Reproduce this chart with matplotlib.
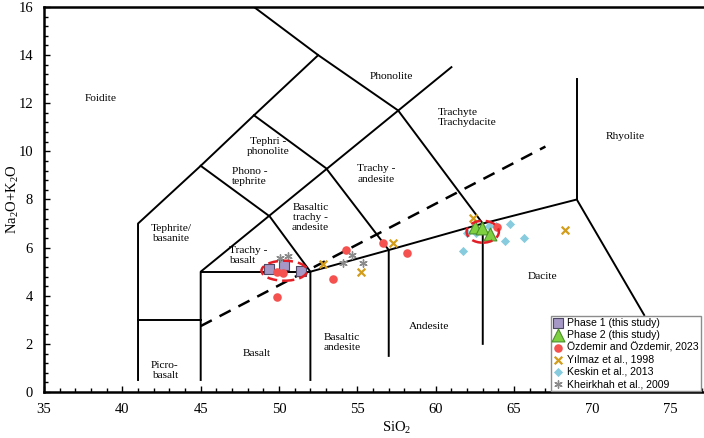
import matplotlib
matplotlib.use('Agg')
import matplotlib.pyplot as plt
from matplotlib.patches import Ellipse
from matplotlib.ticker import MultipleLocator

plt.rcParams['font.family'] = 'Liberation Serif'
plt.rcParams['mathtext.fontset'] = 'custom'
plt.rcParams['mathtext.rm'] = 'Liberation Serif'
plt.rcParams['mathtext.default'] = 'rm'

# TAS field boundaries (SiO2, Na2O+K2O)
boundaries = [
    [(41, 0.5), (41, 7), (45, 9.4), (48.4, 11.5), (52.5, 14), (48.4, 16)],
    [(41, 3), (45, 3)],
    [(45, 0.5), (45, 5), (61, 13.5)],
    [(45, 5), (52, 5)],
    [(52, 0.5), (52, 5), (57, 5.9), (63, 7), (69, 8), (73.3, 3.2)],
    [(45, 9.4), (49.4, 7.3), (52, 5)],
    [(48.4, 11.5), (53, 9.3), (57, 5.9), (57, 1.5)],
    [(52.5, 14), (57.6, 11.7), (63, 7), (63, 2)],
    [(69, 8), (69, 13)],
]
alk_line = [(45, 2.74), (67, 10.2)]

field_labels = [
    ('Foidite', 38.6, 12.2, 'center'),
    ('Phonolite', 57.2, 13.1, 'center'),
    ('Tephri -\nphonolite', 49.3, 10.2, 'center'),
    ('Trachyte\nTrachydacite', 60.1, 11.4, 'left'),
    ('Trachy -\nandesite', 56.2, 9.06, 'center'),
    ('Phono -\ntephrite', 48.1, 8.94, 'center'),
    ('Basaltic\ntrachy -\nandesite', 52.0, 7.27, 'center'),
    ('Tephrite/\nbasanite', 43.1, 6.57, 'center'),
    ('Trachy -\nbasalt', 46.8, 5.69, 'left'),
    ('Picro-\nbasalt', 42.7, 0.91, 'center'),
    ('Basalt', 48.6, 1.62, 'center'),
    ('Basaltic\nandesite', 54.0, 2.04, 'center'),
    ('Andesite', 59.6, 2.74, 'center'),
    ('Dacite', 66.8, 4.82, 'center'),
    ('Rhyolite', 72.1, 10.6, 'center'),
]

# Sample data
phase1_sio2 = [49.38, 50.34, 51.40]
phase1_alk = [5.10, 5.29, 5.02]
phase2_sio2 = [62.5, 62.97, 63.48]
phase2_alk = [6.85, 6.83, 6.57]
ozdemir_sio2 = [49.85, 50.27, 49.85, 53.42, 54.3, 56.65, 58.15, 63.9]
ozdemir_alk = [5.0, 4.93, 3.94, 4.68, 5.9, 6.18, 5.76, 6.85]
yilmaz_sio2 = [52.83, 55.23, 57.25, 62.36, 68.25]
yilmaz_alk = [5.32, 4.97, 6.18, 7.22, 6.73]
keskin_sio2 = [61.76, 62.0, 62.6, 63.4, 63.83, 64.74, 64.42, 65.65]
keskin_alk = [5.86, 6.62, 6.62, 6.9, 6.9, 6.98, 6.29, 6.41]
kheirkhah_sio2 = [50.06, 50.55, 54.06, 54.64, 55.38]
kheirkhah_alk = [5.56, 5.67, 5.37, 5.69, 5.37]

x_ticks = [35, 40, 45, 50, 55, 60, 65, 70, 75]

fig = plt.figure(figsize=(7.04, 4.38), dpi=100)
ax = fig.add_axes([44 / 704, 46 / 438, 45 * 15.67 / 704, 385 / 438])

for seg in boundaries:
    xs, ys = zip(*seg)
    ax.plot(xs, ys, color='black', lw=1.4, zorder=1)
xs, ys = zip(*alk_line)
ax.plot(xs, ys, color='black', lw=1.8, ls=(0, (5, 3.5)), zorder=1)

for txt, x, y, ha in field_labels:
    ax.text(x, y, txt, ha=ha, va='center', fontsize=8.2, linespacing=1.15, zorder=2)

ax.scatter(phase1_sio2, phase1_alk, marker='s', s=55, facecolor='#a698c6',
           edgecolor='#4d4866', lw=0.8, zorder=3, label='Phase 1 (this study)')
ax.scatter(phase2_sio2, phase2_alk, marker='^', s=85, facecolor='#7ed040',
           edgecolor='#4b8f2c', lw=0.8, zorder=6, label='Phase 2 (this study)')
ax.scatter(ozdemir_sio2, ozdemir_alk, marker='o', s=38, color='#f4514f', lw=0,
           zorder=4, label='Özdemir and Özdemir, 2023')
ax.scatter(yilmaz_sio2, yilmaz_alk, marker='x', s=30, color='#d39d1c', lw=1.6,
           zorder=4, label='Yılmaz et al., 1998')
ax.scatter(keskin_sio2, keskin_alk, marker='D', s=22, color='#86cbde', lw=0,
           zorder=3, label='Keskin et al., 2013')
ax.scatter(kheirkhah_sio2, kheirkhah_alk, marker=(6, 2, 0), s=28, color='#8a8a8a',
           lw=1.0, zorder=4, label='Kheirkhah et al., 2009')

for cx, cy, w, h in [(50.34, 5.04, 2.92, 0.83), (63.0, 6.66, 2.06, 0.91)]:
    ax.add_patch(Ellipse((cx, cy), w, h, fill=False, ec='#e21f26', lw=1.8,
                         ls=(0, (4, 2)), zorder=7))

ax.set_xlim(35, 80)
ax.set_ylim(0, 16)
ax.set_xticks(x_ticks)
ax.xaxis.set_minor_locator(MultipleLocator(1))
ax.yaxis.set_major_locator(MultipleLocator(2))
ax.yaxis.set_minor_locator(MultipleLocator(0.4))
ax.tick_params(which='both', direction='in', width=1, labelsize=10.5)
ax.tick_params(which='major', length=4, pad=8)
ax.tick_params(which='minor', length=3)
for side in ['left', 'bottom', 'top', 'right']:
    ax.spines[side].set_linewidth(1.8)

ax.set_xlabel('SiO$_2$', fontsize=10.5, labelpad=3)
ax.set_ylabel('Na$_2$O+K$_2$O', fontsize=10.5)
ax.yaxis.set_label_coords(-0.032, 0.5)

leg = ax.legend(loc='upper left', bbox_to_anchor=(551 / 704, 122 / 438),
                bbox_transform=fig.transFigure, prop={'family': 'Liberation Sans', 'size': 7.6},
                fancybox=False, edgecolor='#8c8c8c', framealpha=1, borderpad=0.2,
                labelspacing=0.2, handletextpad=0.3, handlelength=1.0,
                borderaxespad=0, scatterpoints=1)
leg.get_frame().set_linewidth(1.0)

fig.savefig('out.png', dpi=100)
